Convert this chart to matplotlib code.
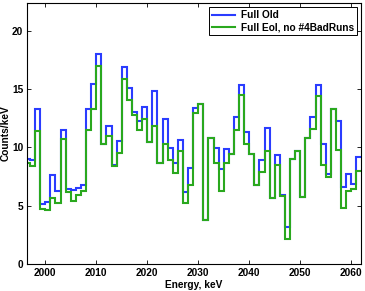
import numpy as np
import matplotlib
matplotlib.use("Agg")
import matplotlib.pyplot as plt

plt.rcParams['font.family'] = ['Liberation Sans', 'DejaVu Sans']
plt.rcParams['font.weight'] = 'bold'

bin_edges = np.arange(1996, 2063)
full_old = [9.0, 8.95, 13.33, 5.18, 5.32, 7.67, 6.24, 11.53, 6.44, 6.38,
            6.5, 6.75, 13.3, 15.45, 17.97, 10.3, 11.87, 8.53, 10.53, 16.88,
            15.05, 13.0, 12.25, 13.47, 10.47, 14.86, 8.7, 12.4, 9.96, 8.7,
            10.67, 6.15, 8.24, 13.4, 13.73, 3.75, 10.8, 9.96, 8.15, 9.87,
            9.44, 12.6, 15.34, 11.3, 9.47, 6.75, 8.9, 11.67, 5.67, 9.38,
            5.95, 3.15, 9.04, 9.67, 5.72, 10.8, 12.6, 15.34, 10.33, 7.75,
            13.3, 12.25, 6.58, 7.75, 6.87, 9.15]
full_eoi = [8.67, 8.38, 11.39, 4.72, 4.66, 5.64, 5.24, 10.76, 6.2, 5.44,
            5.95, 6.29, 11.53, 13.3, 16.97, 10.3, 11.0, 8.4, 9.53, 15.9,
            14.1, 12.76, 11.5, 12.47, 10.47, 11.8, 8.7, 10.3, 8.96, 7.78,
            9.67, 5.24, 6.8, 12.96, 13.73, 3.75, 10.8, 8.67, 6.3, 8.67,
            9.44, 11.5, 14.45, 10.3, 9.47, 6.75, 7.87, 9.67, 5.67, 8.47,
            5.8, 2.17, 9.04, 9.67, 5.72, 10.8, 11.6, 14.4, 8.53, 7.5,
            13.3, 9.75, 4.85, 6.3, 6.44, 7.95]
labels = ["Full Old", "Full EoI, no #4BadRuns"]
x_ticks = [2000, 2010, 2020, 2030, 2040, 2050, 2060]
y_ticks = [0, 5, 10, 15, 20]

fig = plt.figure(figsize=(3.65, 2.91), dpi=100)
ax = fig.add_axes([0.075, 0.092, 0.914, 0.899])

ax.stairs(full_old, bin_edges, baseline=None, color='#2a3cff', lw=1.5, label=labels[0])
ax.stairs(full_eoi, bin_edges, baseline=None, color='#2aa81e', lw=1.5, label=labels[1])

ax.set_xlim(1996.5, 2061.9)
ax.set_ylim(0, 22.4)
ax.set_xticks(x_ticks)
ax.set_yticks(y_ticks)
ax.tick_params(direction='in', length=3, width=0.6, top=True, right=True,
               labelsize=7.3, pad=3)
for lab in ax.get_xticklabels() + ax.get_yticklabels():
    lab.set_fontweight('bold')
for s in ax.spines.values():
    s.set_linewidth(0.8)

ax.set_xlabel("Energy, keV", fontsize=7.3, fontweight='bold', labelpad=1.5)
ax.set_ylabel("Counts/keV", fontsize=7.3, fontweight='bold', labelpad=1)

leg = ax.legend(loc='upper right', bbox_to_anchor=(0.988, 0.982), borderaxespad=0,
                fancybox=False, framealpha=1, edgecolor='black', fontsize=7.3,
                handlelength=2.2, handletextpad=0.6, borderpad=0.3, labelspacing=0.2)
leg.get_frame().set_linewidth(0.7)
for t in leg.get_texts():
    t.set_fontweight('bold')

fig.savefig("out.png", dpi=100)
